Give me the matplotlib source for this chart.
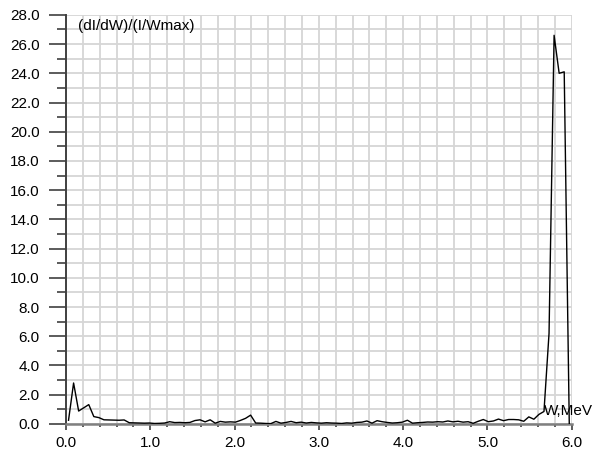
import numpy as np
import matplotlib
matplotlib.use("Agg")
import matplotlib.pyplot as plt
from matplotlib.ticker import MultipleLocator, FormatStrFormatter

# Energy bin centres (MeV) and normalised spectrum values
energy = np.round(0.03 + 0.06 * np.arange(100), 2)
spectrum = [
    0.25, 2.80, 0.88, 1.10, 1.32, 0.50, 0.43, 0.28, 0.27, 0.26,
    0.25, 0.27, 0.08, 0.07, 0.06, 0.05, 0.06, 0.03, 0.04, 0.06,
    0.15, 0.09, 0.10, 0.08, 0.10, 0.23, 0.28, 0.14, 0.28, 0.05,
    0.17, 0.12, 0.14, 0.12, 0.24, 0.38, 0.60, 0.06, 0.05, 0.03,
    0.02, 0.17, 0.05, 0.10, 0.17, 0.08, 0.12, 0.06, 0.10, 0.07,
    0.05, 0.08, 0.06, 0.05, 0.03, 0.07, 0.05, 0.10, 0.12, 0.20,
    0.05, 0.22, 0.15, 0.10, 0.06, 0.08, 0.12, 0.25, 0.05, 0.08,
    0.10, 0.13, 0.12, 0.15, 0.13, 0.20, 0.14, 0.18, 0.12, 0.15,
    0.04, 0.18, 0.30, 0.15, 0.20, 0.33, 0.22, 0.30, 0.30, 0.28,
    0.18, 0.48, 0.32, 0.65, 0.85, 6.20, 26.60, 24.00, 24.10, 0.00,
]

y_label = "(dI/dW)/(I/Wmax)"
x_label = "W,MeV"

plt.rcParams['font.family'] = ['Liberation Sans', 'DejaVu Sans']

fig = plt.figure(figsize=(6, 4.5), dpi=100)
ax = fig.add_axes([0.11, 0.058, 0.843, 0.909])

ax.plot(energy, spectrum, color='black', linewidth=1.0, zorder=3)

ax.set_xlim(0, 6)
ax.set_ylim(0, 28)

ax.xaxis.set_major_locator(MultipleLocator(1.0))
ax.xaxis.set_minor_locator(MultipleLocator(0.2))
ax.yaxis.set_major_locator(MultipleLocator(2.0))
ax.yaxis.set_minor_locator(MultipleLocator(1.0))
ax.xaxis.set_major_formatter(FormatStrFormatter('%.1f'))
ax.yaxis.set_major_formatter(FormatStrFormatter('%.1f'))

ax.grid(which='both', color='#d6d6d6', linewidth=1.3, zorder=0)
ax.set_axisbelow(True)

for side in ('top', 'right'):
    ax.spines[side].set_visible(False)
ax.spines['left'].set_color('#404040')
ax.spines['left'].set_linewidth(1.4)
ax.spines['bottom'].set_color('#808080')
ax.spines['bottom'].set_linewidth(1.8)

ax.tick_params(axis='y', which='major', length=12, width=1.2, color='#404040',
               pad=7, labelsize=11)
ax.tick_params(axis='y', which='minor', length=6.5, width=1.2, color='#404040')
ax.tick_params(axis='x', which='major', length=4.5, width=1.2, color='#404040',
               pad=4, labelsize=11)
ax.tick_params(axis='x', which='minor', length=2.5, width=1.2, color='#404040')

ax.text(0.024, 0.972, y_label, transform=ax.transAxes, fontsize=11,
        ha='left', va='center')
ax.text(0.945, 0.032, x_label, transform=ax.transAxes, fontsize=11,
        ha='left', va='center')

fig.savefig('out.png', dpi=100)
